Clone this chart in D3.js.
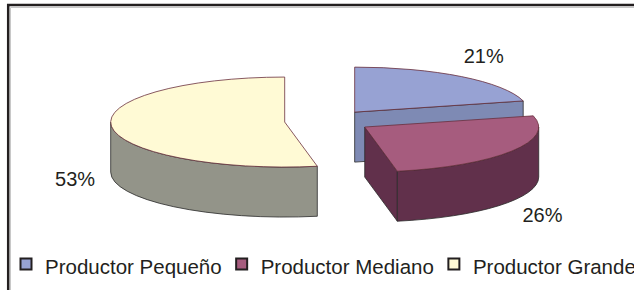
<!DOCTYPE html>
<html>
<head>
<meta charset="utf-8">
<script src="https://cdn.jsdelivr.net/npm/d3@7"></script>
<style>
  body { margin: 0; background: #fff; }
  svg { display: block; font-family: "Liberation Sans", Arial, sans-serif; }
</style>
</head>
<body>
<div class="visHolder"></div>
<script>
// categorias y porcentajes
const categories = ['Productor Pequeño', 'Productor Mediano', 'Productor Grande']
const values = [21, 26, 53]
const pctLabels = ['21%', '26%', '53%']

// colores: cara superior / lateral
const topColors = ['#97a2d3', '#a65c7e', '#fffad5']
const sideColors = ['#7e8ab4', '#61304b', '#939489']

const width = 634
const height = 290

// pie 3D (elipse)
const cx = 328
const cy = 121
const rx = 174
const ry = 45
const depth = 50
const explode = 0.25

const svg = d3.select('.visHolder').append('svg')
  .attr('width', width)
  .attr('height', height)

// marco
svg.append('line').attr('x1', 10.5).attr('y1', 7.5).attr('x2', width).attr('y2', 7.5)
  .attr('stroke', '#c8c8c8').attr('stroke-width', 1)
svg.append('line').attr('x1', 10.5).attr('y1', 7.5).attr('x2', 10.5).attr('y2', height)
  .attr('stroke', '#c8c8c8').attr('stroke-width', 1)
svg.append('line').attr('x1', 7).attr('y1', 5).attr('x2', width).attr('y2', 5)
  .attr('stroke', '#231f20').attr('stroke-width', 2.5)
svg.append('line').attr('x1', 8.2).attr('y1', 4).attr('x2', 8.2).attr('y2', height)
  .attr('stroke', '#231f20').attr('stroke-width', 2.5)

const xScale = d3.scaleLinear().domain([-1, 1]).range([cx - rx, cx + rx])
const yScale = d3.scaleLinear().domain([-1, 1]).range([cy - ry, cy + ry])

const pie = d3.pie().sort(null).startAngle(0).endAngle(2 * Math.PI)
const arcs = pie(values).map((d, i) => {
  const mid = (d.startAngle + d.endAngle) / 2
  return Object.assign(d, {
    i: i,
    mid: mid,
    ox: explode * Math.sin(mid),
    oy: -explode * Math.cos(mid)
  })
})

// punto sobre la elipse (r = 0 centro, r = 1 borde)
const pt = (d, a, r, dz) => [
  xScale(d.ox + r * Math.sin(a)),
  yScale(d.oy - r * Math.cos(a)) + (dz || 0)
]

const topPath = (d) => {
  const c = pt(d, 0, 0)
  const p0 = pt(d, d.startAngle, 1)
  const p1 = pt(d, d.endAngle, 1)
  const large = d.endAngle - d.startAngle > Math.PI ? 1 : 0
  return `M${c}L${p0}A${rx},${ry} 0 ${large} 1 ${p1}Z`
}

const wallPath = (d) => {
  const s = Math.max(d.startAngle, Math.PI / 2)
  const e = Math.min(d.endAngle, 3 * Math.PI / 2)
  if (s >= e) return null
  const large = e - s > Math.PI ? 1 : 0
  return `M${pt(d, s, 1)}A${rx},${ry} 0 ${large} 1 ${pt(d, e, 1)}` +
    `L${pt(d, e, 1, depth)}A${rx},${ry} 0 ${large} 0 ${pt(d, s, 1, depth)}Z`
}

const cutPath = (d, a) => {
  return `M${pt(d, 0, 0)}L${pt(d, a, 1)}L${pt(d, a, 1, depth)}L${pt(d, 0, 0, depth)}Z`
}

// de atras hacia adelante
const ordered = arcs.slice().sort((a, b) => a.oy - b.oy)

const slices = svg.append('g').attr('id', 'pie')
ordered.forEach((d) => {
  const g = slices.append('g')
  if (Math.sin(d.endAngle) > 0.01) {
    g.append('path').attr('d', cutPath(d, d.endAngle))
      .attr('fill', sideColors[d.i]).attr('stroke', '#2a2a2a').attr('stroke-width', 0.8)
  }
  if (Math.sin(d.startAngle) < -0.01) {
    g.append('path').attr('d', cutPath(d, d.startAngle))
      .attr('fill', sideColors[d.i]).attr('stroke', '#2a2a2a').attr('stroke-width', 0.8)
  }
  const w = wallPath(d)
  if (w) {
    g.append('path').attr('d', w)
      .attr('fill', sideColors[d.i]).attr('stroke', '#2a2a2a').attr('stroke-width', 0.8)
  }
  g.append('path').attr('d', topPath(d))
    .attr('fill', topColors[d.i]).attr('stroke', '#6a2f3c').attr('stroke-width', 0.8)
})

// etiquetas de porcentaje
svg.append('g').selectAll('text')
  .data(arcs)
  .enter()
  .append('text')
  .attr('x', (d) => pt(d, d.mid, 1.21)[0])
  .attr('y', (d) => pt(d, d.mid, 1.21)[1] + (Math.cos(d.mid) < 0 ? depth : 0) - 16.5 * Math.cos(d.mid))
  .attr('text-anchor', 'middle')
  .attr('dominant-baseline', 'central')
  .attr('font-size', 20)
  .attr('fill', '#231f20')
  .text((d) => pctLabels[d.i])

// leyenda
const legend = svg.append('g').attr('id', 'legend')
let lx = 20
categories.forEach((c, i) => {
  legend.append('rect')
    .attr('x', lx + 0.5).attr('y', 258.5)
    .attr('width', 11).attr('height', 11)
    .attr('fill', topColors[i]).attr('stroke', '#231f20').attr('stroke-width', 2)
  const t = legend.append('text')
    .attr('x', lx + 25).attr('y', 274)
    .attr('font-size', 20.5)
    .attr('fill', '#231f20')
    .text(c)
  lx = lx + 25 + t.node().getComputedTextLength() + 14
})
</script>
</body>
</html>
